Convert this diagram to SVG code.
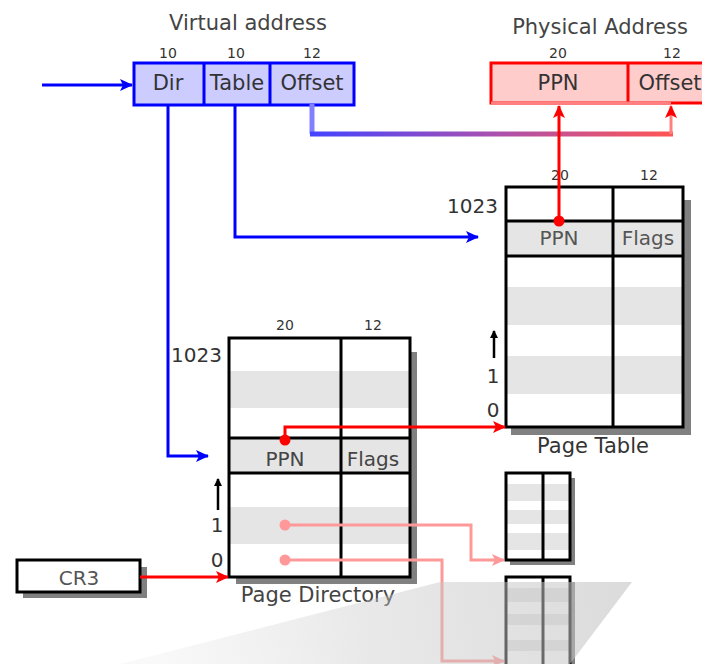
<svg xmlns="http://www.w3.org/2000/svg" width="702" height="664" viewBox="0 0 702 664">
  <defs>
    <style>
      text { font-family: "DejaVu Sans", "Liberation Sans", sans-serif; fill: #333; }
      .t20 { font-size: 20px; text-anchor: middle; }
      .t21 { font-size: 21px; text-anchor: middle; }
      .t14 { font-size: 14px; text-anchor: middle; }
      .end { text-anchor: end; }
      .blue { fill: none; stroke: #0000ff; stroke-width: 3; }
      .red { fill: none; stroke: #ff0000; stroke-width: 3; }
      .pink { fill: none; stroke: #ff9999; stroke-width: 3; }
      .tbl { fill: none; stroke: #000; stroke-width: 3; }
      .shadow { fill: #808080; }
      .stripe { fill: #e5e5e5; }
    </style>
    <marker id="ahBlue" markerUnits="userSpaceOnUse" markerWidth="14" markerHeight="12" refX="12" refY="6" orient="auto">
      <path d="M0,0 L13,6 L0,12 L3,6 Z" fill="#0000ff"/>
    </marker>
    <marker id="ahRed" markerUnits="userSpaceOnUse" markerWidth="14" markerHeight="12" refX="12" refY="6" orient="auto">
      <path d="M0,0 L13,6 L0,12 L3,6 Z" fill="#ff0000"/>
    </marker>
    <marker id="ahPink" markerUnits="userSpaceOnUse" markerWidth="14" markerHeight="12" refX="12" refY="6" orient="auto">
      <path d="M0,0 L13,6 L0,12 L3,6 Z" fill="#ff9999"/>
    </marker>
    <marker id="ahSmall" markerUnits="userSpaceOnUse" markerWidth="8" markerHeight="8" refX="7" refY="4" orient="auto">
      <path d="M0,0 L8,4 L0,8 Z" fill="#000"/>
    </marker>
    <linearGradient id="offGrad" gradientUnits="userSpaceOnUse" x1="312" y1="0" x2="671" y2="0">
      <stop offset="0" stop-color="#4444ff"/>
      <stop offset="0.5" stop-color="#a850b0"/>
      <stop offset="1" stop-color="#ff5555"/>
    </linearGradient>
    <linearGradient id="haze" gradientUnits="userSpaceOnUse" x1="620" y1="590" x2="150" y2="664">
      <stop offset="0" stop-color="#c4c4c4" stop-opacity="0.6"/>
      <stop offset="0.55" stop-color="#c8c8c8" stop-opacity="0.4"/>
      <stop offset="1" stop-color="#d0d0d0" stop-opacity="0.12"/>
    </linearGradient>
  </defs>

  <rect width="702" height="664" fill="#ffffff"/>

  <!-- Virtual address -->
  <g id="virtual-address">
    <text class="t21" x="248" y="30" style="fill:#444">Virtual address</text>
    <text class="t14" x="168" y="58">10</text>
    <text class="t14" x="236" y="58">10</text>
    <text class="t14" x="312" y="58">12</text>
    <rect x="134" y="63" width="220" height="42" fill="#ccccff" stroke="#0000ff" stroke-width="3"/>
    <line x1="204" y1="63" x2="204" y2="105" stroke="#0000ff" stroke-width="3"/>
    <line x1="270" y1="63" x2="270" y2="105" stroke="#0000ff" stroke-width="3"/>
    <text class="t21" x="168" y="90">Dir</text>
    <text class="t21" x="237" y="90">Table</text>
    <text class="t21" x="312" y="90">Offset</text>
  </g>

  <!-- Physical address -->
  <g id="physical-address">
    <text class="t21" x="600" y="34" style="fill:#444">Physical Address</text>
    <text class="t14" x="558" y="58">20</text>
    <text class="t14" x="672" y="58">12</text>
    <rect x="491" y="63" width="230" height="40" fill="#ffcccc" stroke="#ff0000" stroke-width="3"/>
    <line x1="628" y1="63" x2="628" y2="103" stroke="#ff0000" stroke-width="3"/>
    <line x1="491" y1="103" x2="671" y2="103" stroke="#ff8080" stroke-width="3"/>
    <text class="t21" x="558" y="90">PPN</text>
    <text class="t21" x="670" y="90">Offset</text>
  </g>

  <!-- Page table -->
  <g id="page-table">
    <rect class="shadow" x="511" y="200" width="180" height="235"/>
    <rect x="506" y="187" width="177" height="240" fill="#fff"/>
    <rect class="stripe" x="506" y="221" width="177" height="35"/>
    <rect class="stripe" x="506" y="287" width="177" height="38"/>
    <rect class="stripe" x="506" y="356" width="177" height="38"/>
    <rect class="tbl" x="506" y="187" width="177" height="240"/>
    <line class="tbl" x1="613" y1="187" x2="613" y2="427"/>
    <line class="tbl" x1="506" y1="221" x2="683" y2="221"/>
    <line class="tbl" x1="506" y1="256" x2="683" y2="256"/>
    <text class="t14" x="560" y="180">20</text>
    <text class="t14" x="649" y="180">12</text>
    <text class="t20" x="559" y="245" style="fill:#555">PPN</text>
    <text class="t20" x="648" y="245" style="fill:#555">Flags</text>
    <text class="t20 end" x="498" y="213">1023</text>
    <line x1="494" y1="358" x2="494" y2="331" stroke="#000" stroke-width="2.5" marker-end="url(#ahSmall)"/>
    <text class="t20" x="493" y="383">1</text>
    <text class="t20" x="493" y="417">0</text>
    <text class="t21" x="593" y="453">Page Table</text>
  </g>

  <!-- Page directory -->
  <g id="page-directory">
    <rect class="shadow" x="236" y="352" width="181" height="232"/>
    <rect x="229" y="338" width="181" height="239" fill="#fff"/>
    <rect class="stripe" x="229" y="371" width="181" height="37"/>
    <rect class="stripe" x="229" y="438" width="181" height="35"/>
    <rect class="stripe" x="229" y="507" width="181" height="37"/>
    <rect class="tbl" x="229" y="338" width="181" height="239"/>
    <line class="tbl" x1="341" y1="338" x2="341" y2="577"/>
    <line class="tbl" x1="229" y1="438" x2="410" y2="438"/>
    <line class="tbl" x1="229" y1="473" x2="410" y2="473"/>
    <text class="t14" x="285" y="330">20</text>
    <text class="t14" x="373" y="330">12</text>
    <text class="t20" x="285" y="466" style="fill:#444">PPN</text>
    <text class="t20" x="373" y="466" style="fill:#444">Flags</text>
    <text class="t20 end" x="222" y="362">1023</text>
    <line x1="218" y1="510" x2="218" y2="479" stroke="#000" stroke-width="2.5" marker-end="url(#ahSmall)"/>
    <text class="t20" x="217" y="532">1</text>
    <text class="t20" x="217" y="567">0</text>
    <text class="t21" x="318" y="602" style="fill:#444">Page Directory</text>
  </g>

  <!-- Page table reached from entry 1 -->
  <g id="page-table-1">
    <rect class="shadow" x="510" y="478" width="65" height="87"/>
    <rect x="506" y="473" width="64" height="87" fill="#fff"/>
    <rect class="stripe" x="506" y="484" width="64" height="17"/>
    <rect class="stripe" x="506" y="510" width="64" height="14"/>
    <rect class="stripe" x="506" y="533" width="64" height="17"/>
    <rect class="tbl" x="506" y="473" width="64" height="87"/>
    <line class="tbl" x1="543" y1="473" x2="543" y2="560"/>
  </g>

  <!-- Page table reached from entry 0 -->
  <g id="page-table-0">
    <rect class="shadow" x="510" y="582" width="65" height="90"/>
    <rect x="506" y="577" width="64" height="95" fill="#fff"/>
    <rect class="stripe" x="506" y="588" width="64" height="14"/>
    <rect class="stripe" x="506" y="614" width="64" height="11"/>
    <rect class="stripe" x="506" y="640" width="64" height="11"/>
    <rect class="tbl" x="506" y="577" width="64" height="95"/>
    <line class="tbl" x1="543" y1="577" x2="543" y2="672"/>
  </g>

  <!-- CR3 register -->
  <g id="cr3">
    <rect class="shadow" x="23" y="567" width="124" height="31"/>
    <rect x="17" y="560" width="123" height="32" fill="#fff" stroke="#000" stroke-width="3"/>
    <text class="t20" x="79" y="585" style="fill:#555">CR3</text>
  </g>

  <!-- Connectors -->
  <g id="connectors">
    <!-- linear address input and index lookups -->
    <line class="blue" x1="42" y1="85" x2="132" y2="85" marker-end="url(#ahBlue)"/>
    <path class="blue" d="M168,105 V456 H208" marker-end="url(#ahBlue)"/>
    <path class="blue" d="M235,105 V237 H478" marker-end="url(#ahBlue)"/>
    <!-- offset passed straight through -->
    <path d="M312,104 V134" fill="none" stroke="#8080ff" stroke-width="5"/>
    <path d="M310,134 H673" fill="none" stroke="url(#offGrad)" stroke-width="5"/>
    <path d="M671,134 V106" fill="none" stroke="#ff8080" stroke-width="3" marker-end="url(#ahRed)"/>
    <!-- frame number from page table entry -->
    <path class="red" d="M559,221 V106" marker-end="url(#ahRed)"/>
    <circle cx="559" cy="221" r="5.5" fill="#ff0000"/>
    <!-- directory entry to page table -->
    <path class="red" d="M285,440 V427 H505" marker-end="url(#ahRed)"/>
    <circle cx="285" cy="440" r="5.5" fill="#ff0000"/>
    <!-- CR3 to directory base -->
    <line class="red" x1="140" y1="577" x2="228" y2="577" marker-end="url(#ahRed)"/>
    <!-- other directory entries -->
    <path class="pink" d="M285,525 H471 V560 H504" marker-end="url(#ahPink)"/>
    <circle cx="285" cy="525" r="5.5" fill="#ff9999"/>
    <path class="pink" d="M285,560 H442 V661 H504" marker-end="url(#ahPink)"/>
    <circle cx="285" cy="560" r="5.5" fill="#ff9999"/>
  </g>

  <!-- translucent floor haze over the lower right -->
  <polygon points="440,582 632,582 570,664 120,664" fill="url(#haze)"/>
</svg>
